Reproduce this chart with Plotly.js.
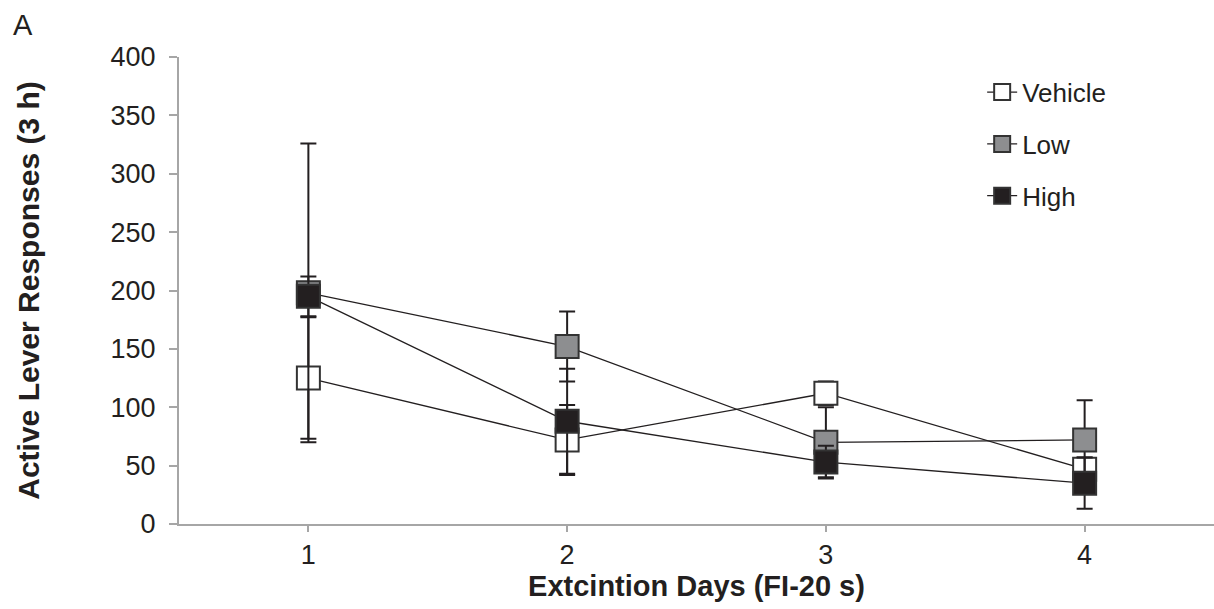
<!DOCTYPE html>
<html>
<head>
<meta charset="utf-8">
<script src="https://cdn.plot.ly/plotly-3.0.1.min.js"></script>
<style>html,body{margin:0;padding:0;background:#fff;}#chart{width:1214px;height:609px;}</style>
</head>
<body>
<div id="chart"></div>
<script>
// Data
const days = [1, 2, 3, 4];
const seriesNames = ["Vehicle", "Low", "High"];
const vehicleMean = [125, 72, 112, 47];
const vehicleErr  = [52, 30, 10, 10];
const lowMean     = [198, 152, 70, 72];
const lowErr      = [128, 30, 30, 34];
const highMean    = [195, 88, 53, 35];
const highErr     = [17, 45, 14, 22];
const xTickLabels = ["1", "2", "3", "4"];
const yTickValues = [0, 50, 100, 150, 200, 250, 300, 350, 400];

const fillColors = ["#ffffff", "#8d8e90", "#231f20"];
const means = [vehicleMean, lowMean, highMean];
const errs = [vehicleErr, lowErr, highErr];
const FONT = "Liberation Sans, Arial, Helvetica, sans-serif";
const INK = "#231f20";

const traces = seriesNames.map((name, i) => ({
  type: "scatter",
  mode: "lines+markers",
  name: name,
  legendgroup: name,
  x: days,
  y: means[i],
  error_y: {type: "data", array: errs[i], visible: true, color: INK, thickness: 2, width: 8},
  line: {color: INK, width: 1.3},
  marker: {symbol: "square", size: 23, color: fillColors[i], line: {color: "#333333", width: 2}}
}));

const layout = {
  width: 1214,
  height: 609,
  margin: {l: 179, r: 0, t: 57, b: 85},
  paper_bgcolor: "#ffffff",
  plot_bgcolor: "#ffffff",
  font: {family: FONT, color: INK, size: 24},
  showlegend: true,
  legend: {
    x: 0.776, xanchor: "left", y: 0.975, yanchor: "top",
    font: {family: FONT, size: 26, color: INK},
    bgcolor: "rgba(0,0,0,0)",
    tracegroupgap: 15,
    traceorder: "grouped"
  },
  xaxis: {
    range: [0.5, 4.5],
    tickvals: days,
    ticktext: xTickLabels,
    showgrid: false, zeroline: false,
    showline: true, linecolor: "#a6a6a6", linewidth: 2,
    ticks: "outside", ticklen: 6, tickwidth: 2, tickcolor: "#a6a6a6",
    tickfont: {family: FONT, size: 27, color: INK},
    title: {text: "<b>Extcintion Days (FI-20 s)</b>", font: {family: FONT, size: 29, color: INK}, standoff: 4}
  },
  yaxis: {
    range: [0, 400],
    tickvals: yTickValues,
    showgrid: false, zeroline: false,
    showline: true, linecolor: "#a6a6a6", linewidth: 2,
    ticks: "outside", ticklen: 8, tickwidth: 2, tickcolor: "#a6a6a6",
    ticklabelstandoff: 8,
    tickfont: {family: FONT, size: 27, color: INK},
    title: {text: "<b>Active Lever Responses (3 h)</b>", font: {family: FONT, size: 30, color: INK}, standoff: 62}
  },
  annotations: [{
    text: "A", xref: "paper", yref: "paper",
    x: -179/1035 + 11/1035, y: 1 + 57/467 - 7/467,
    xanchor: "left", yanchor: "top", showarrow: false,
    font: {family: FONT, size: 29, color: INK}
  }]
};

Plotly.newPlot("chart", traces, layout, {displayModeBar: false, staticPlot: true});
</script>
</body>
</html>
